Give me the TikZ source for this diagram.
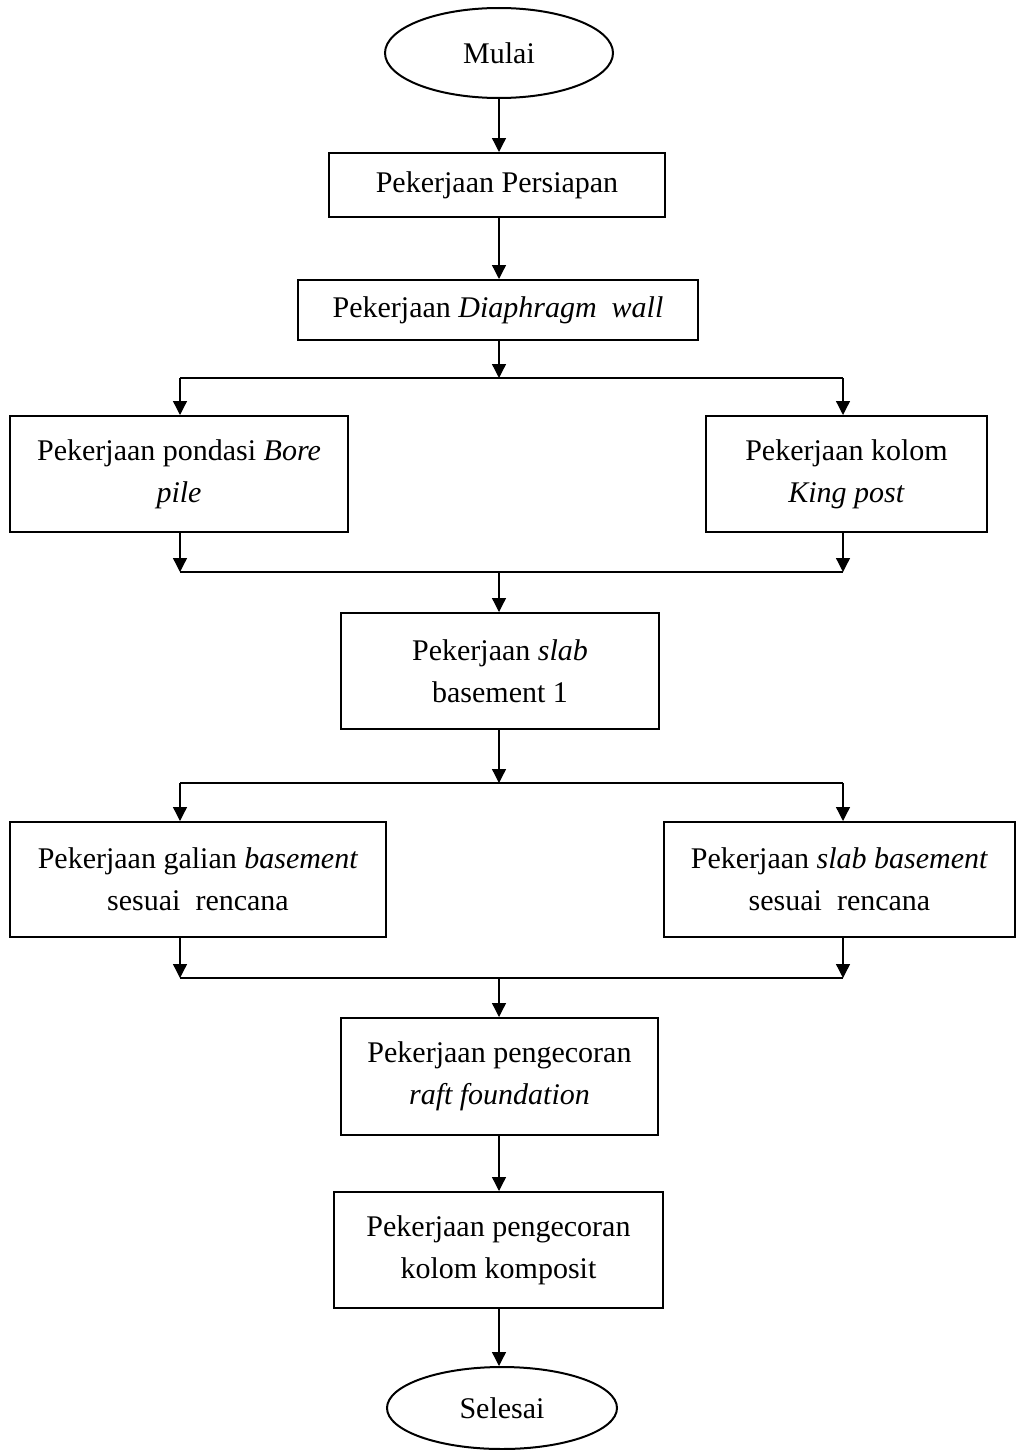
\documentclass[tikz,border=0pt]{standalone}
\usepackage{fontspec}
\setmainfont{Liberation Serif}
\usetikzlibrary{shapes.geometric,arrows.meta}
\begin{document}
\begin{tikzpicture}[x=0.5pt,y=-0.5pt,
  every node/.style={font=\fontsize{15}{21}\selectfont, align=center, inner sep=0pt},
  procbox/.style={draw, line width=1pt, rectangle},
  term/.style={draw, line width=1pt, ellipse},
  conn/.style={line width=0.65pt},
  arr/.style={conn, -{Triangle[length=7pt,width=7pt]}}]
\useasboundingbox (0,0) rectangle (1016,1450);
% nodes
\node[term, minimum width=114pt, minimum height=45pt] (start) at (499,53) {Mulai};
\node[procbox, minimum width=168pt, minimum height=32pt] (p1) at (497,185) {Pekerjaan Persiapan};
\node[procbox, minimum width=200pt, minimum height=30pt] (p2) at (498,310) {Pekerjaan \textit{Diaphragm\hspace{0.5em}wall}};
\node[procbox, minimum width=169pt, minimum height=58pt] (bore) at (179,474) {Pekerjaan pondasi \textit{Bore}\\\textit{pile}};
\node[procbox, minimum width=140.5pt, minimum height=58pt] (king) at (846.5,474) {Pekerjaan kolom\\\textit{King post}};
\node[procbox, minimum width=159pt, minimum height=58pt] (slab1) at (500,671) {Pekerjaan \textit{slab}\\basement 1};
\node[procbox, minimum width=188pt, minimum height=57.5pt] (galian) at (198,879.5) {Pekerjaan galian \textit{basement}\\sesuai\hspace{0.5em}rencana};
\node[procbox, minimum width=175.5pt, minimum height=57.5pt] (slabb) at (839.5,879.5) {Pekerjaan \textit{slab basement}\\sesuai\hspace{0.5em}rencana};
\node[procbox, minimum width=158.5pt, minimum height=58.5pt] (raft) at (499.5,1076.5) {Pekerjaan pengecoran\\\textit{raft foundation}};
\node[procbox, minimum width=164.5pt, minimum height=58pt] (komp) at (498.5,1250) {Pekerjaan pengecoran\\kolom komposit};
\node[term, minimum width=115pt, minimum height=41pt] (end) at (502,1408) {Selesai};
% junction coordinates
\coordinate (j1) at (499,378);
\coordinate (l1) at (180,378);
\coordinate (r1) at (843,378);
\coordinate (j2) at (499,572);
\coordinate (l2) at (180,572);
\coordinate (r2) at (843,572);
\coordinate (j3) at (499,783);
\coordinate (l3) at (180,783);
\coordinate (r3) at (843,783);
\coordinate (j4) at (499,978);
\coordinate (l4) at (180,978);
\coordinate (r4) at (843,978);
% connectors
\draw[arr] (start.south -| j1) -- (j1 |- p1.north);
\draw[arr] (j1 |- p1.south) -- (j1 |- p2.north);
\draw[arr] (j1 |- p2.south) -- (j1);
\draw[conn] (l1) -- (r1);
\draw[arr] (l1) -- (l1 |- bore.north);
\draw[arr] (r1) -- (r1 |- king.north);
\draw[arr] (l1 |- bore.south) -- (l2);
\draw[arr] (r1 |- king.south) -- (r2);
\draw[conn] (l2) -- (r2);
\draw[arr] (j2) -- (j2 |- slab1.north);
\draw[arr] (j2 |- slab1.south) -- (j3);
\draw[conn] (l3) -- (r3);
\draw[arr] (l3) -- (l3 |- galian.north);
\draw[arr] (r3) -- (r3 |- slabb.north);
\draw[arr] (l3 |- galian.south) -- (l4);
\draw[arr] (r3 |- slabb.south) -- (r4);
\draw[conn] (l4) -- (r4);
\draw[arr] (j4) -- (j4 |- raft.north);
\draw[arr] (j4 |- raft.south) -- (j4 |- komp.north);
\draw[arr] (j4 |- komp.south) -- (j4 |- end.north);
\end{tikzpicture}
\end{document}
